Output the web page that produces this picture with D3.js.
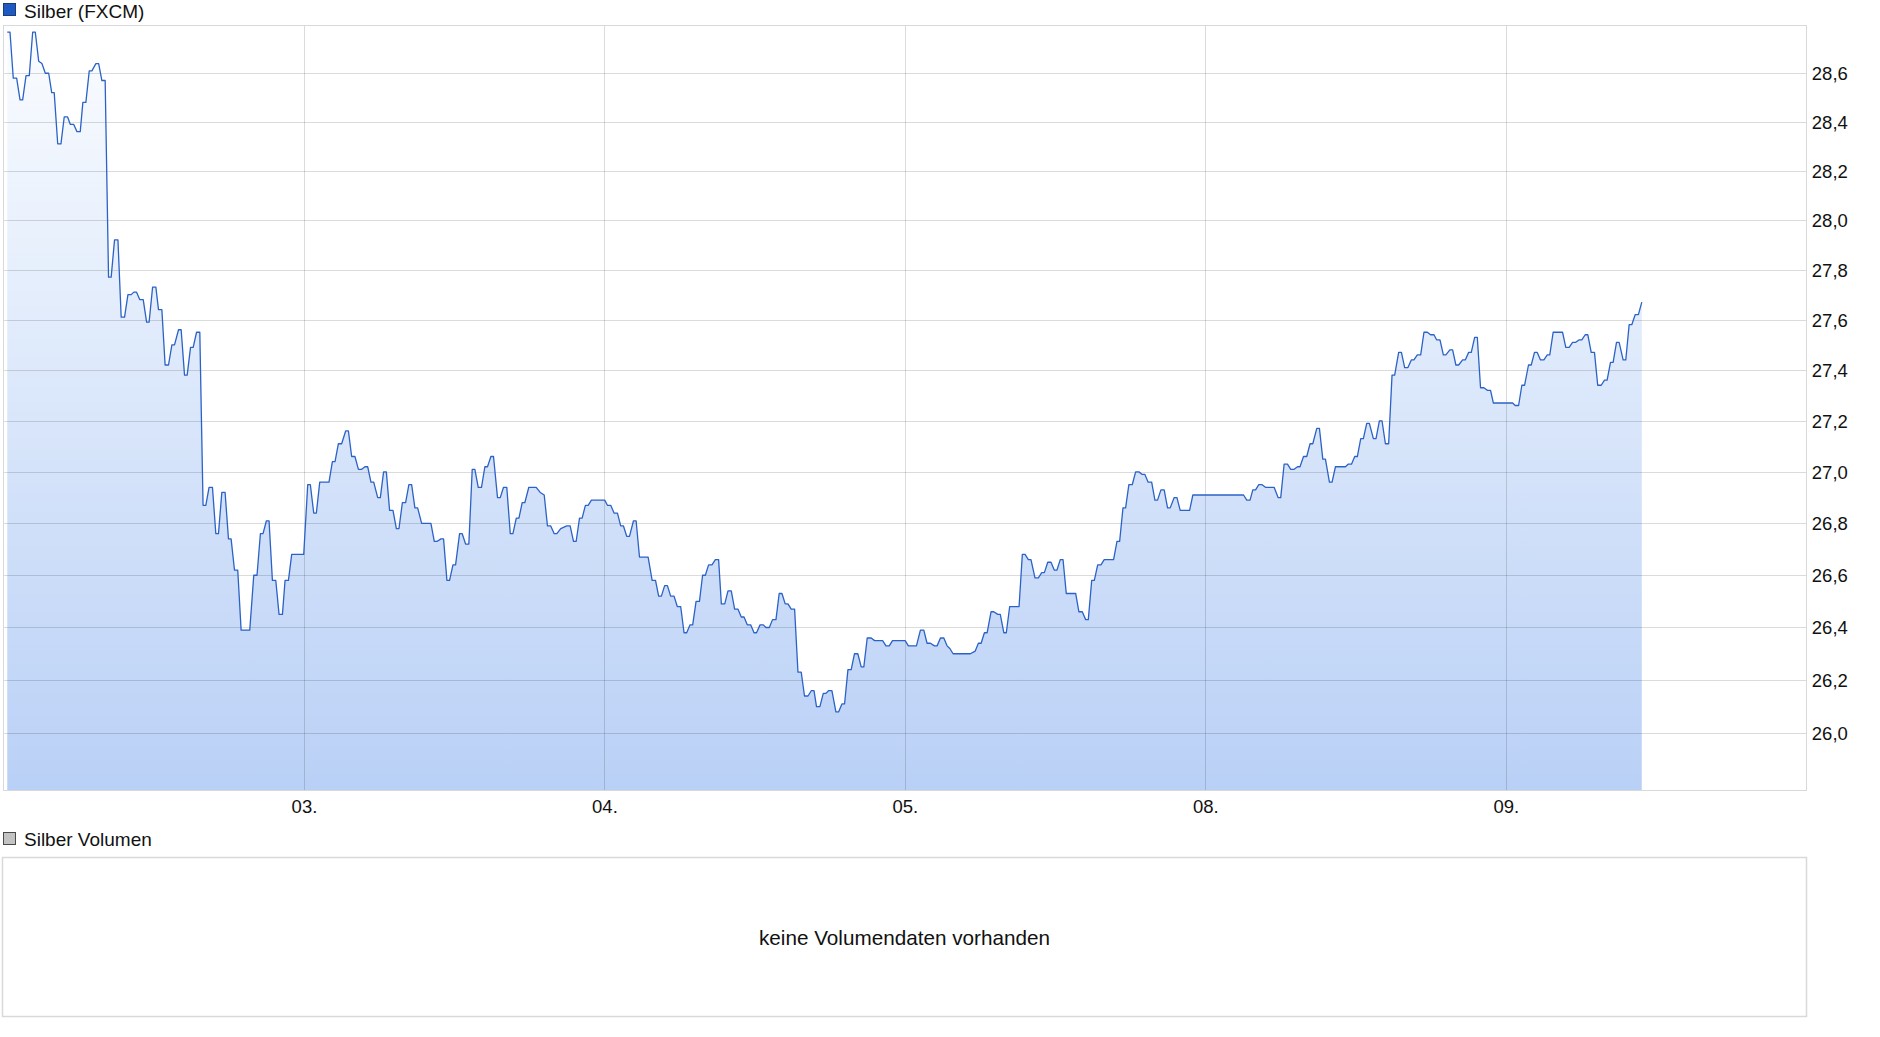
<!DOCTYPE html>
<html>
<head>
<meta charset="utf-8">
<script src="https://cdn.jsdelivr.net/npm/d3@7"></script>
<style>
  body { margin: 0; background: #fff; }
  svg { display: block; }
  text { font-family: "Liberation Sans", Arial, Helvetica, sans-serif; fill: #111; }
</style>
</head>
<body>
<svg id="chart" width="1880" height="1037"></svg>
<script>
// ---------------- DATA ----------------
const seriesName = "Silber (FXCM)";
const volumeName = "Silber Volumen";
const noVolumeText = "keine Volumendaten vorhanden";
// trading days on the x axis (weekend 06./07. skipped)
const dayLabels = ["02.", "03.", "04.", "05.", "08.", "09."];
// y tick values (log scale)
const yTicks = [26.0, 26.2, 26.4, 26.6, 26.8, 27.0, 27.2, 27.4, 27.6, 27.8, 28.0, 28.2, 28.4, 28.6];
const yDomain = [25.785, 28.80];
// time in hours from the start of 02. on the trading-day axis
const hours = [
  0.30,0.52,0.78,1.05,1.32,1.53,1.80,2.06,2.33,2.54,2.81,3.07,3.34,3.61,3.85,4.05,4.33,4.59,4.85,5.12,
  5.33,5.60,5.87,6.13,6.34,6.58,6.85,7.06,7.38,7.60,7.86,8.12,8.39,8.60,8.87,9.14,9.40,9.67,9.94,10.20,
  10.41,10.63,10.89,11.16,11.43,11.63,11.91,12.17,12.38,12.65,12.91,13.18,13.45,13.66,13.98,14.19,14.46,14.67,14.94,15.15,
  15.42,15.68,15.94,16.16,16.42,16.69,16.96,17.17,17.44,17.70,17.97,18.18,18.45,18.71,18.98,19.67,19.99,20.25,20.52,20.73,
  21.00,21.21,21.48,21.75,22.01,22.28,22.49,22.76,23.02,23.98,24.30,24.51,24.78,24.99,25.26,26.00,26.27,26.48,26.75,27.01,
  27.33,27.55,27.81,28.07,28.35,28.61,28.87,29.09,29.35,29.57,29.89,30.10,30.36,30.58,30.84,31.11,31.38,31.59,31.86,32.12,
  32.38,32.60,32.86,33.08,33.40,34.14,34.41,34.62,34.94,35.15,35.42,35.63,35.90,36.11,36.43,36.64,36.91,37.17,37.44,37.65,
  37.92,38.18,38.45,38.66,38.93,39.14,39.46,39.68,39.94,40.20,40.48,40.69,40.96,41.17,41.43,41.64,41.96,42.55,42.87,43.19,
  43.45,43.71,43.99,44.20,44.51,44.99,45.26,45.53,45.74,46.01,46.22,46.48,46.70,46.96,48.02,48.24,48.50,48.77,49.04,49.30,
  49.52,49.78,50.00,50.32,50.53,50.80,51.49,51.81,52.08,52.33,52.55,52.81,53.03,53.29,53.56,53.82,54.09,54.36,54.57,54.84,
  55.05,55.32,55.59,55.84,56.06,56.32,56.59,56.86,57.12,57.34,57.61,57.87,58.13,58.40,58.67,58.93,59.15,59.41,59.68,59.95,
  60.15,60.43,60.69,60.90,61.17,61.43,61.70,61.96,62.18,62.44,62.66,62.92,63.19,63.46,63.72,63.98,64.26,64.52,64.74,64.94,
  65.21,65.48,65.69,65.90,66.17,66.49,66.70,66.97,67.18,67.45,67.71,67.97,68.24,68.51,68.72,68.99,69.31,69.58,70.22,70.49,
  70.75,71.01,72.02,72.28,72.92,73.24,73.51,73.77,74.04,74.36,74.57,74.84,75.11,75.37,75.59,75.85,76.12,76.39,77.23,77.61,
  77.87,78.09,78.35,78.57,78.88,79.10,79.42,79.62,79.90,80.10,80.37,81.12,81.38,81.60,81.86,82.07,82.39,82.66,82.93,83.14,
  83.41,83.67,83.93,84.15,84.41,84.63,84.89,85.64,85.90,86.17,86.44,86.65,86.92,87.13,87.40,87.66,87.92,88.67,88.94,89.15,
  89.42,89.63,89.89,90.16,90.43,90.69,90.96,91.17,91.43,91.71,91.97,92.18,92.45,92.71,92.98,93.19,93.51,93.73,93.99,94.74,
  95.00,99.05,99.31,99.57,99.79,100.01,100.27,100.53,100.80,101.49,101.81,102.02,102.29,102.56,102.82,103.09,103.36,103.56,103.84,104.10,
  104.36,104.58,104.90,105.11,105.38,105.59,105.91,106.12,106.39,107.19,107.40,107.67,107.93,108.14,108.41,108.62,108.89,109.10,109.42,109.63,
  109.90,110.11,110.38,110.64,110.91,111.12,111.44,111.66,111.92,112.18,112.45,112.66,112.93,113.20,113.46,113.73,113.99,114.26,114.47,114.74,
  115.01,115.21,115.53,115.75,116.01,116.23,116.55,116.76,117.03,117.24,117.51,117.72,117.98,118.25,118.52,118.78,119.00,120.54,120.75,121.02,
  121.28,121.50,121.81,122.03,122.29,122.51,122.77,123.04,123.31,123.51,123.78,124.53,124.79,125.06,125.33,125.59,125.86,126.07,126.34,126.55,
  126.82,127.08,127.34,127.62,127.88,128.09,128.36,128.57,128.84,129.05,129.37,129.58,129.85,130.06,130.33,130.59,130.86
];
const prices = [
  28.77,28.77,28.58,28.58,28.49,28.49,28.59,28.59,28.77,28.77,28.65,28.64,28.60,28.60,28.52,28.52,28.31,28.31,28.42,28.42,
  28.39,28.39,28.36,28.36,28.48,28.48,28.61,28.61,28.64,28.64,28.57,28.57,27.77,27.77,27.92,27.92,27.61,27.61,27.70,27.70,
  27.71,27.71,27.68,27.68,27.59,27.59,27.73,27.73,27.64,27.64,27.42,27.42,27.50,27.50,27.56,27.56,27.38,27.38,27.49,27.49,
  27.55,27.55,26.87,26.87,26.94,26.94,26.76,26.76,26.92,26.92,26.74,26.74,26.62,26.62,26.39,26.39,26.60,26.60,26.76,26.76,
  26.81,26.81,26.58,26.58,26.45,26.45,26.58,26.58,26.68,26.68,26.95,26.95,26.84,26.84,26.96,26.96,27.04,27.04,27.11,27.11,
  27.16,27.16,27.06,27.06,27.01,27.01,27.02,27.02,26.96,26.96,26.90,26.90,27.00,27.00,26.85,26.85,26.78,26.78,26.88,26.88,
  26.95,26.95,26.86,26.86,26.80,26.80,26.73,26.73,26.74,26.74,26.58,26.58,26.64,26.64,26.76,26.76,26.72,26.72,27.01,27.01,
  26.94,26.94,27.02,27.02,27.06,27.06,26.90,26.90,26.94,26.94,26.76,26.76,26.82,26.82,26.88,26.88,26.94,26.94,26.92,26.91,
  26.79,26.79,26.76,26.76,26.78,26.79,26.79,26.73,26.73,26.82,26.82,26.87,26.87,26.89,26.89,26.87,26.87,26.84,26.84,26.79,
  26.79,26.75,26.75,26.81,26.81,26.67,26.67,26.58,26.58,26.52,26.52,26.56,26.56,26.52,26.52,26.48,26.48,26.38,26.38,26.41,
  26.41,26.50,26.50,26.60,26.60,26.64,26.64,26.66,26.66,26.49,26.49,26.54,26.54,26.47,26.47,26.44,26.44,26.41,26.41,26.38,
  26.38,26.41,26.41,26.40,26.40,26.43,26.43,26.53,26.53,26.49,26.49,26.47,26.47,26.23,26.23,26.14,26.14,26.16,26.16,26.10,
  26.10,26.15,26.15,26.16,26.16,26.08,26.08,26.11,26.11,26.24,26.24,26.30,26.30,26.25,26.25,26.36,26.36,26.35,26.35,26.33,
  26.33,26.35,26.35,26.33,26.33,26.39,26.39,26.34,26.34,26.33,26.33,26.36,26.36,26.33,26.32,26.30,26.30,26.30,26.30,26.31,
  26.34,26.34,26.38,26.38,26.46,26.46,26.45,26.45,26.38,26.38,26.48,26.48,26.68,26.68,26.66,26.66,26.59,26.59,26.61,26.61,
  26.65,26.65,26.62,26.62,26.66,26.66,26.53,26.53,26.46,26.46,26.43,26.43,26.58,26.58,26.64,26.64,26.66,26.66,26.73,26.73,
  26.86,26.86,26.95,26.95,27.00,27.00,26.99,26.99,26.96,26.96,26.89,26.89,26.93,26.93,26.86,26.86,26.90,26.90,26.85,26.85,
  26.91,26.91,26.89,26.89,26.93,26.93,26.95,26.95,26.94,26.94,26.90,26.90,27.03,27.03,27.01,27.01,27.02,27.02,27.06,27.06,
  27.11,27.11,27.17,27.17,27.05,27.05,26.96,26.96,27.02,27.02,27.03,27.03,27.06,27.06,27.13,27.13,27.19,27.19,27.13,27.13,
  27.20,27.20,27.11,27.11,27.38,27.38,27.47,27.47,27.41,27.41,27.44,27.44,27.46,27.46,27.55,27.55,27.54,27.54,27.52,27.52,
  27.46,27.46,27.48,27.48,27.42,27.42,27.44,27.44,27.47,27.47,27.53,27.53,27.33,27.33,27.32,27.32,27.27,27.27,27.26,27.26,
  27.34,27.34,27.42,27.42,27.47,27.47,27.44,27.44,27.46,27.46,27.55,27.55,27.49,27.49,27.51,27.51,27.52,27.52,27.54,27.54,
  27.47,27.47,27.34,27.34,27.36,27.36,27.43,27.43,27.51,27.51,27.44,27.44,27.58,27.58,27.62,27.62,27.67
];

// ---------------- LAYOUT ----------------
const P = { left: 3.5, right: 1806.3, top: 25, bottom: 790.7 };
const V = { left: 2.5, right: 1806.5, top: 857.5, bottom: 1016.5 };

const data = hours.map((h, i) => ({ h, v: prices[i] }));
const svg = d3.select("#chart");

const x = d3.scaleLinear().domain([0, dayLabels.length * 24]).range([P.left, P.right]);
const y = d3.scaleLog().domain(yDomain).range([P.bottom, P.top]);

// gradient for area
const defs = svg.append("defs");
const grad = defs.append("linearGradient")
  .attr("id", "areaGrad").attr("gradientUnits", "userSpaceOnUse")
  .attr("x1", 0).attr("x2", 0).attr("y1", P.top).attr("y2", P.bottom);
grad.append("stop").attr("offset", "0%").attr("stop-color", "#fbfdff");
grad.append("stop").attr("offset", "100%").attr("stop-color", "#b9d0f6");

// area
svg.append("path").datum(data)
  .attr("fill", "url(#areaGrad)")
  .attr("d", d3.area().x(d => x(d.h)).y0(P.bottom).y1(d => y(d.v)));

// horizontal gridlines
const yAxis = d3.axisRight(y).tickValues(yTicks)
  .tickSize(-(P.right - P.left))
  .tickFormat(d => d3.format(".1f")(d).replace(".", ","));
const gy = svg.append("g").attr("transform", `translate(${P.right},0)`).call(yAxis);
gy.select(".domain").remove();
gy.selectAll(".tick line").attr("stroke", "rgba(0,0,0,0.14)").attr("shape-rendering", "crispEdges");
gy.selectAll(".tick text")
  .attr("x", 5.5).attr("dy", "0.35em")
  .style("font-size", "18.5px").style("font-family", "'Liberation Sans', Arial, sans-serif")
  .attr("fill", "#111").attr("text-anchor", "start");

// vertical gridlines (day boundaries) + labels
const dayTicks = dayLabels.map((_, i) => i * 24).filter(t => t > 0);
const xAxis = d3.axisBottom(x).tickValues(dayTicks)
  .tickSize(-(P.bottom - P.top))
  .tickFormat(t => dayLabels[t / 24]);
const gx = svg.append("g").attr("transform", `translate(0,${P.bottom})`).call(xAxis);
gx.select(".domain").remove();
gx.selectAll(".tick line").attr("stroke", "rgba(0,0,0,0.14)").attr("shape-rendering", "crispEdges");
gx.selectAll(".tick text")
  .attr("y", 9).attr("dy", "0.71em")
  .style("font-size", "18.5px").style("font-family", "'Liberation Sans', Arial, sans-serif")
  .attr("fill", "#111");

// price line
svg.append("path").datum(data)
  .attr("fill", "none")
  .attr("stroke", "#2b62c7")
  .attr("stroke-width", 1.3)
  .attr("stroke-linejoin", "round")
  .attr("d", d3.line().x(d => x(d.h)).y(d => y(d.v)));

// plot frame
svg.append("rect")
  .attr("x", P.left - 0.5).attr("y", P.top)
  .attr("width", P.right - P.left + 0.5).attr("height", P.bottom - P.top)
  .attr("fill", "none").attr("stroke", "#d9d9d9").attr("shape-rendering", "crispEdges");

// legend 1
svg.append("rect").attr("x", 3.5).attr("y", 3.5).attr("width", 12).attr("height", 12)
  .attr("fill", "#1f5ac2").attr("stroke", "#1a3c78").attr("stroke-width", 1);
svg.append("text").attr("x", 24).attr("y", 17.5)
  .style("font-size", "19px").text(seriesName);

// volume panel
svg.append("rect").attr("x", 3.5).attr("y", 832.5).attr("width", 12).attr("height", 12)
  .attr("fill", "#c3c3c3").attr("stroke", "#4a4a4a").attr("stroke-width", 1);
svg.append("text").attr("x", 24).attr("y", 845.5)
  .style("font-size", "19px").text(volumeName);
svg.append("rect")
  .attr("x", V.left).attr("y", V.top).attr("width", V.right - V.left).attr("height", V.bottom - V.top)
  .attr("fill", "#fff").attr("stroke", "#d9d9d9").attr("stroke-width", 1.5);
svg.append("text").attr("x", (V.left + V.right) / 2).attr("y", (V.top + V.bottom) / 2 + 7.5)
  .attr("text-anchor", "middle").style("font-size", "20.7px").text(noVolumeText);
</script>
</body>
</html>
